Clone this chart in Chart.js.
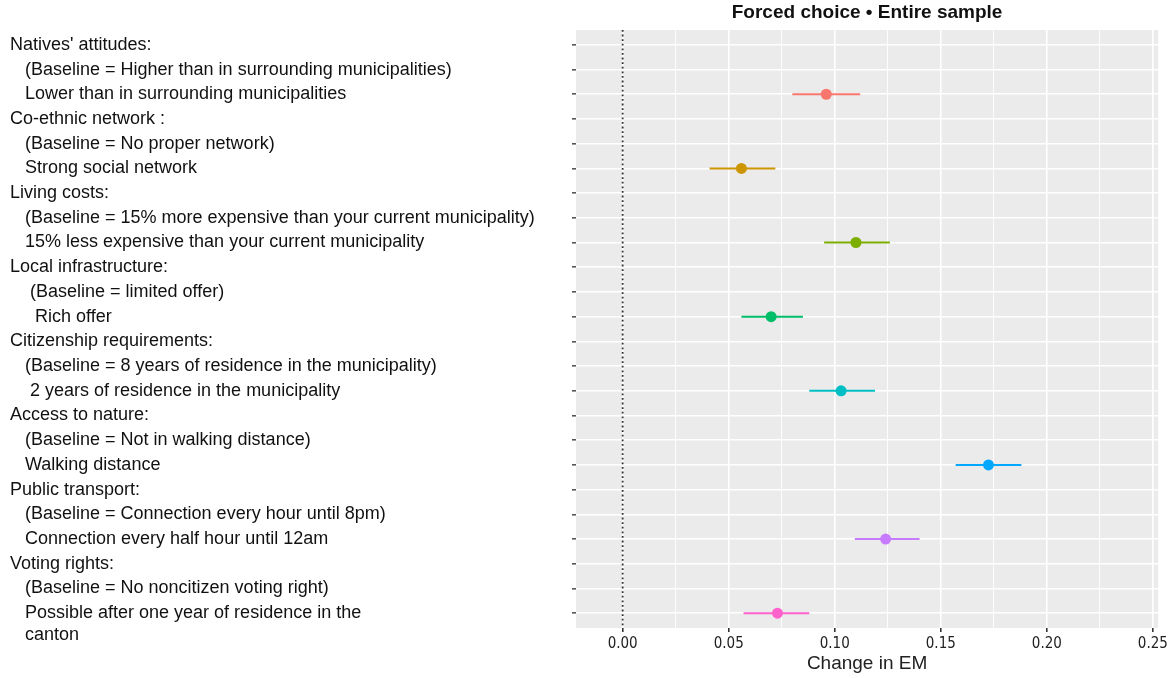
<!DOCTYPE html>
<html lang="en">
<head>
<meta charset="UTF-8">
<title>Forced choice • Entire sample</title>
<script src="https://cdn.jsdelivr.net/npm/chart.js@4.4.1/dist/chart.umd.min.js"></script>
<style>
    body { margin: 0; background: #ffffff; }
    .wrap { position: relative; width: 1171px; height: 678px; }
</style>
</head>
<body>
<div class="wrap"><canvas id="amce"></canvas></div>
<script>
    // row labels, top to bottom (row 1 .. 24)
    const rowLabels = [
        "Natives' attitudes:",
        "   (Baseline = Higher than in surrounding municipalities)",
        "   Lower than in surrounding municipalities",
        "Co-ethnic network :",
        "   (Baseline = No proper network)",
        "   Strong social network",
        "Living costs:",
        "   (Baseline = 15% more expensive than your current municipality)",
        "   15% less expensive than your current municipality",
        "Local infrastructure:",
        "    (Baseline = limited offer)",
        "     Rich offer",
        "Citizenship requirements:",
        "   (Baseline = 8 years of residence in the municipality)",
        "    2 years of residence in the municipality",
        "Access to nature:",
        "   (Baseline = Not in walking distance)",
        "   Walking distance",
        "Public transport:",
        "   (Baseline = Connection every hour until 8pm)",
        "   Connection every half hour until 12am",
        "Voting rights:",
        "   (Baseline = No noncitizen voting right)",
        ["", "   Possible after one year of residence in the", "   canton"]
    ];

    // estimates (change in EM) with 95% intervals
    const attributes = ['Natives', 'Co-ethnic', 'Living costs', 'Infrastructure', 'Citizenship', 'Nature', 'Transport', 'Voting'];
    const estRow   = [3, 6, 9, 12, 15, 18, 21, 24];
    const estimate = [0.096, 0.056, 0.110, 0.070, 0.103, 0.1725, 0.124, 0.073];
    const lower    = [0.080, 0.041, 0.095, 0.056, 0.088, 0.157, 0.1095, 0.057];
    const upper    = [0.112, 0.072, 0.126, 0.085, 0.119, 0.188, 0.140, 0.088];
    const colors   = ['#F8766D', '#CD9600', '#7CAE00', '#00BE67', '#00BFC4', '#00A9FF', '#C77CFF', '#FF61CC'];

    const xTicks = [0, 0.025, 0.05, 0.075, 0.1, 0.125, 0.15, 0.175, 0.2, 0.225, 0.25];

    const narrow = "'Liberation Sans Narrow', 'DejaVu Sans Condensed', sans-serif";
    const sans = "'Liberation Sans', Arial, sans-serif";

    // grey ggplot panel
    const panelBg = {
        id: 'panelBg',
        beforeDraw(chart) {
            const a = chart.chartArea, c = chart.ctx;
            c.save();
            c.fillStyle = '#EBEBEB';
            c.fillRect(a.left, a.top, a.right - a.left, a.bottom - a.top);
            c.restore();
        }
    };

    const datasets = [{
        type: 'scatter',
        label: 'estimate',
        data: estimate.map((v, i) => ({ x: v, y: estRow[i] })),
        backgroundColor: colors,
        borderColor: colors,
        pointRadius: 5.5,
        pointBorderWidth: 0,
        order: 0
    }];
    attributes.forEach((name, i) => {
        datasets.push({
            type: 'line',
            label: name,
            data: [{ x: lower[i], y: estRow[i] }, { x: upper[i], y: estRow[i] }],
            borderColor: colors[i],
            borderWidth: 2,
            pointRadius: 0,
            order: 1
        });
    });
    // dotted reference line at zero
    datasets.push({
        type: 'line',
        label: 'zero',
        data: [{ x: 0, y: 0.4 }, { x: 0, y: 24.6 }],
        borderColor: '#333333',
        borderWidth: 1.8,
        borderDash: [1.8, 2.8],
        pointRadius: 0,
        order: 2
    });

    new Chart(document.getElementById('amce'), {
        data: { datasets: datasets },
        plugins: [panelBg],
        options: {
            responsive: true,
            maintainAspectRatio: false,
            animation: false,
            layout: { padding: { left: 10, right: 11, top: 0, bottom: 0 } },
            plugins: {
                legend: { display: false },
                tooltip: { enabled: false }
            },
            scales: {
                x: {
                    type: 'linear',
                    position: 'bottom',
                    min: -0.022,
                    max: 0.2525,
                    afterBuildTicks: s => { s.ticks = xTicks.map(v => ({ value: v })); },
                    afterFit: s => { s.height = 50; },
                    grid: {
                        color: '#ffffff',
                        lineWidth: ctx => (ctx.index % 2 === 0 ? 1.6 : 0.9),
                        tickColor: ctx => (ctx.index % 2 === 0 ? '#333333' : 'rgba(0,0,0,0)'),
                        tickLength: 4
                    },
                    border: { display: false },
                    ticks: {
                        autoSkip: false,
                        maxRotation: 0,
                        padding: 3,
                        color: '#222222',
                        font: { family: narrow, size: 15 },
                        callback: (v, i) => (i % 2 === 0 ? xTicks[i].toFixed(2) : '')
                    },
                    title: {
                        display: true,
                        text: 'Change in EM',
                        color: '#222222',
                        font: { family: sans, size: 19 },
                        padding: { top: 0, bottom: 3 }
                    }
                },
                top: {
                    type: 'linear',
                    position: 'top',
                    min: -0.022,
                    max: 0.2525,
                    afterFit: s => { s.height = 30; },
                    grid: { display: false },
                    border: { display: false },
                    ticks: { display: false },
                    title: {
                        display: true,
                        text: 'Forced choice • Entire sample',
                        color: '#111111',
                        font: { family: sans, size: 19, weight: 'bold' },
                        padding: { top: 1, bottom: 4 }
                    }
                },
                y: {
                    type: 'linear',
                    reverse: true,
                    min: 0.4,
                    max: 24.6,
                    afterBuildTicks: s => { s.ticks = rowLabels.map((l, i) => ({ value: i + 1 })); },
                    afterFit: s => {
                        s.width = 566;
                        s.paddingTop = 0;
                        s.paddingBottom = 0;
                    },
                    grid: {
                        color: '#ffffff',
                        lineWidth: 1.6,
                        tickColor: '#555555',
                        tickLength: 4
                    },
                    border: { display: false },
                    ticks: {
                        autoSkip: false,
                        crossAlign: 'far',
                        color: '#111111',
                        font: { family: sans, size: 18 },
                        callback: (v, i) => rowLabels[i]
                    }
                }
            }
        }
    });
</script>
</body>
</html>
